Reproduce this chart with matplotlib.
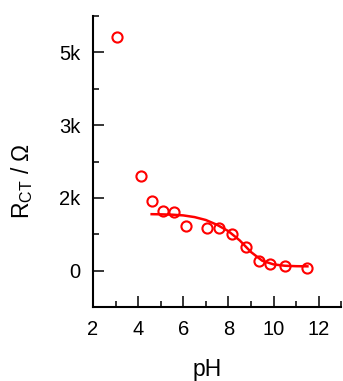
import numpy as np
import matplotlib
matplotlib.use("Agg")
import matplotlib.pyplot as plt
from matplotlib.ticker import FixedLocator, MultipleLocator

plt.rcParams['font.family'] = ['Liberation Sans', 'DejaVu Sans']
plt.rcParams['mathtext.fontset'] = 'custom'
plt.rcParams['mathtext.rm'] = 'Liberation Sans'

# measured charge-transfer resistance vs pH
ph = [3.05, 4.12, 4.62, 5.10, 5.61, 6.11, 7.07, 7.58, 8.15, 8.77, 9.35, 9.83, 10.51, 11.50]
rct = [4810, 1960, 1445, 1225, 1210, 925, 875, 890, 765, 485, 190, 135, 90, 50]

# fitted curve
ph_fit = [4.6, 5.0, 5.5, 6.0, 6.5, 7.0, 7.5, 8.0, 8.5, 9.0, 9.5, 10.0, 10.5, 11.0, 11.5]
rct_fit = [1165, 1162, 1155, 1140, 1105, 1045, 945, 815, 625, 385, 205, 130, 102, 93, 90]

y_ticks = [0, 1500, 3000, 4500]
y_labels = ['0', '2k', '3k', '5k']

fig = plt.figure(figsize=(3.43, 3.81), dpi=100)
ax = fig.add_axes([0.271, 0.194, 0.724, 0.764])

ax.plot(ph, rct, 'o', mfc='none', mec='red', ms=7.3, mew=1.5)
ax.plot(ph_fit, rct_fit, '-', color='red', lw=1.8)

ax.set_xlim(2, 13)
ax.set_ylim(-750, 5250)

ax.xaxis.set_major_locator(MultipleLocator(2))
ax.xaxis.set_minor_locator(MultipleLocator(1))
ax.yaxis.set_major_locator(FixedLocator(y_ticks))
ax.yaxis.set_minor_locator(MultipleLocator(750))
ax.set_yticklabels(y_labels)

for s in ['top', 'right']:
    ax.spines[s].set_visible(False)
for s in ['left', 'bottom']:
    ax.spines[s].set_linewidth(1.5)

ax.tick_params(which='both', direction='in', width=1.1, labelsize=14.5)
ax.tick_params(which='major', length=8, pad=9)
ax.tick_params(which='minor', length=4.5)

ax.set_xlabel('pH', fontsize=16.5, va='center')
ax.xaxis.set_label_coords(0.462, -0.213)
ax.set_ylabel(r'R$_{\mathregular{CT}}$ / Ω', fontsize=16.5, va='center')
ax.yaxis.set_label_coords(-0.286, 0.433)

fig.savefig('out.png', dpi=100)
